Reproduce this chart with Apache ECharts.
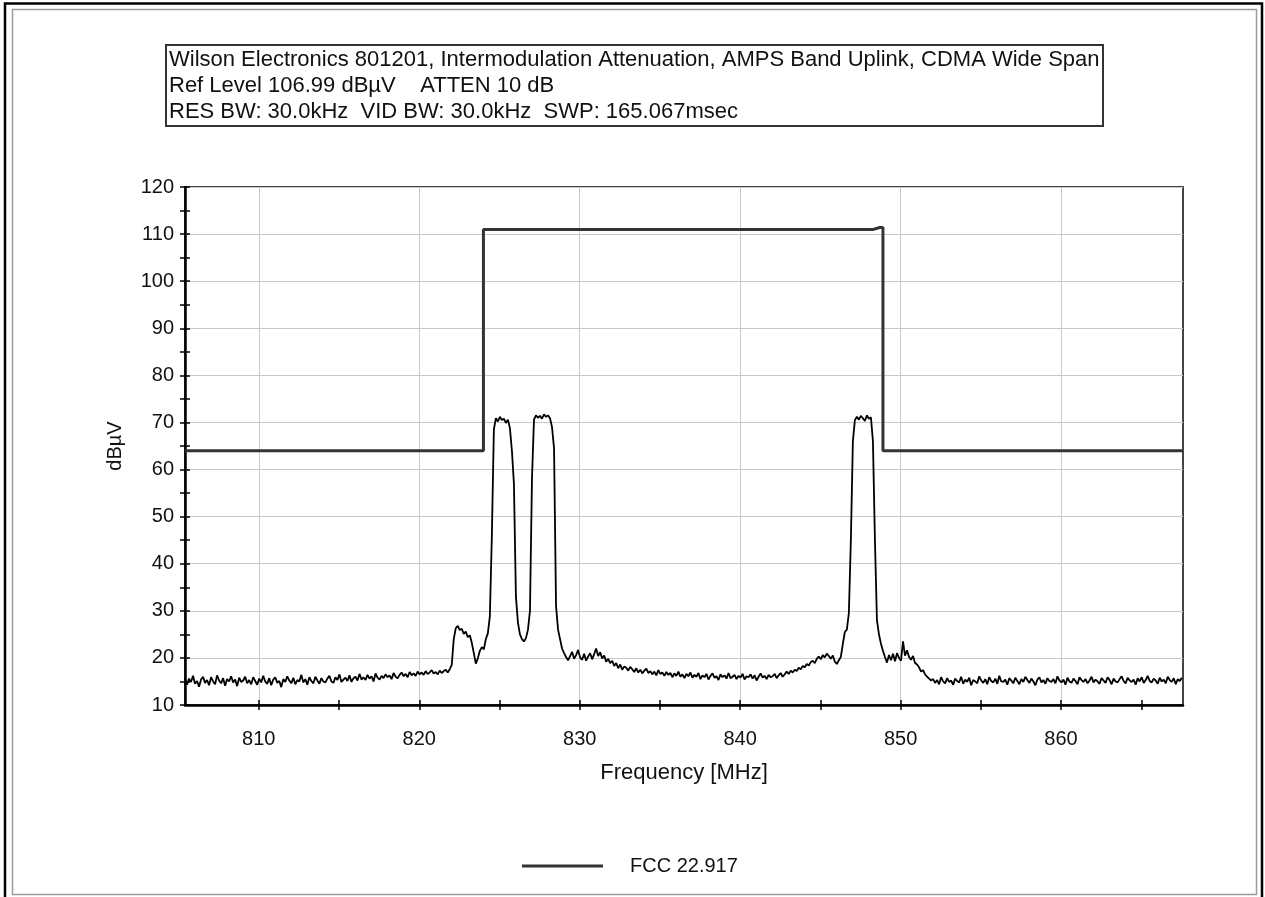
<!DOCTYPE html>
<html>
<head>
<meta charset="utf-8">
<script src="https://cdn.jsdelivr.net/npm/echarts@6/dist/echarts.min.js"></script>
<style>
html,body{margin:0;padding:0;background:#fff;}
#chart{width:1265px;height:897px;}
</style>
</head>
<body>
<div id="chart"></div>
<script>
// ---- data ----
const titleLines = [
  'Wilson Electronics 801201, Intermodulation Attenuation, AMPS Band Uplink, CDMA Wide Span',
  'Ref Level 106.99 dBµV    ATTEN 10 dB',
  'RES BW: 30.0kHz  VID BW: 30.0kHz  SWP: 165.067msec'
];
const xLabelValues = [810, 820, 830, 840, 850, 860];
const xTickValues = [810, 815, 820, 825, 830, 835, 840, 845, 850, 855, 860, 865];
const yTickValues = [10, 15, 20, 25, 30, 35, 40, 45, 50, 55, 60, 65, 70, 75, 80, 85, 90, 95, 100, 105, 110, 115, 120];
const freqMin = 805.4, freqMax = 867.6;

// measured trace: sweep start / step (MHz) and levels (dBµV)
const sweepStart = 805.4;
const sweepStep = 0.125;
const traceLevels = [
  15.8, 14.3, 15.6, 14.9, 16.2, 14.5, 15.1, 13.9, 15.4, 16.0,
  14.7, 15.3, 14.2, 15.9, 15.0, 14.4, 16.3, 15.2, 14.6, 15.7,
  14.1, 15.5, 15.0, 16.1, 14.8, 15.4, 14.0, 15.8, 14.9, 15.2,
  16.0, 14.6, 15.3, 14.4, 15.9, 15.1, 14.3, 15.6, 14.8, 16.2,
  15.0, 14.5, 15.7, 14.2, 15.4, 15.9, 14.7, 15.1, 13.8, 15.5,
  14.9, 16.1, 15.2, 14.6, 15.8, 14.4, 15.3, 15.0, 16.4, 14.8,
  15.5, 14.3, 15.9, 15.1, 14.6, 16.0, 15.2, 14.5, 15.7, 15.0,
  14.8, 15.6, 16.2, 15.0, 14.7, 15.9, 15.3, 16.5, 14.9, 15.4,
  15.8, 15.1, 16.3, 14.9, 15.7, 16.0, 15.2, 16.6, 15.4, 15.9,
  15.3, 16.4, 15.6, 16.1, 15.0, 16.7, 15.8, 15.4, 16.2, 15.7,
  16.5, 15.9, 16.3, 15.5, 16.8, 16.0, 15.7, 16.4, 16.9, 16.1,
  16.6, 15.9, 17.0, 16.3, 16.7, 16.2, 17.1, 16.5, 16.9, 16.4,
  17.2, 16.6, 16.9, 17.4, 16.7, 17.0, 16.5, 17.3, 16.8, 17.2,
  17.5, 16.9, 17.6,
  18.5, 24.0, 26.3, 26.8, 25.9, 26.2, 25.1, 25.6, 24.4, 24.8,
  23.2, 21.0, 18.8, 19.9, 21.5, 22.3, 21.8, 24.0, 25.2, 28.8,
  46.0, 68.5, 70.9, 70.2, 71.2, 70.5, 70.8, 69.9, 70.6, 68.8,
  64.0, 57.0, 33.0, 27.5, 25.0, 24.0, 23.5, 24.2, 26.0, 30.0,
  58.0, 70.6, 71.5, 71.0, 71.4, 70.8, 71.7, 71.2, 71.5, 70.9,
  69.0, 64.5, 31.0, 26.0, 24.0, 22.0, 21.0, 20.2, 19.5, 20.4,
  21.3, 19.8, 20.6, 21.7, 20.1, 19.6, 20.9, 19.4, 20.3, 21.0,
  19.7, 20.8, 22.0, 20.4, 21.2, 19.9, 20.5, 19.2, 19.8, 18.9,
  19.4, 18.3, 18.9, 17.8, 18.6, 17.5, 18.2, 17.9, 17.3, 18.1,
  17.6, 17.0, 17.8, 16.9, 17.5, 16.7, 17.3, 17.7, 16.8, 17.2,
  16.5, 17.1, 16.3, 17.4, 16.6, 16.9, 16.2, 17.0, 16.4, 16.8,
  15.9, 16.7, 16.2, 17.1, 16.0, 16.5, 15.7, 16.6, 16.1, 16.9,
  15.8, 16.4, 16.0, 16.8, 15.5, 16.3, 15.9, 16.6, 15.4, 16.2,
  16.7, 15.8, 16.1, 15.3, 16.5, 15.9, 16.3, 15.6, 16.8, 15.7,
  16.0, 16.4, 15.5, 16.2, 15.8, 16.6, 15.4, 16.1, 15.9, 16.5,
  15.6, 16.3, 15.2, 16.0, 16.7, 15.8, 16.2, 15.5, 16.4, 15.9,
  16.1, 16.6, 15.7, 16.3, 16.8, 16.0, 16.5, 17.1, 16.6, 17.3,
  16.9, 17.5, 17.2, 17.9, 17.6, 18.3, 18.0, 18.7, 18.4, 19.1,
  19.4, 18.9, 19.8, 20.3, 19.7, 20.6, 20.1, 20.9, 20.4, 19.8,
  20.5, 19.2, 18.7, 19.5, 20.2,
  23.0, 25.5, 26.0, 29.5, 45.0, 66.0, 70.5, 71.2, 70.6, 71.4,
  70.9, 70.3, 71.5, 70.8, 71.1, 66.0, 45.0, 28.0, 25.0, 23.0,
  21.5, 20.2, 19.0, 20.6, 19.5, 20.9, 19.3, 21.0, 20.0, 19.4,
  23.5, 20.5, 21.6, 20.2, 19.6, 20.4, 18.9, 18.6, 18.0, 17.1,
  17.4, 16.5, 16.0, 15.6, 15.2,
  15.5, 14.7, 15.3, 14.4, 15.9, 15.0, 14.6, 15.7, 14.9, 15.2,
  14.3, 15.6, 15.1, 14.8, 16.0, 14.5, 15.4, 14.9, 15.8, 14.2,
  15.3, 15.0, 14.6, 16.1, 15.2, 14.7, 15.5, 14.4, 15.9, 15.1,
  14.8, 15.6, 14.5, 16.2, 15.0, 14.9, 15.4, 14.3, 15.7, 15.2,
  14.6, 15.8, 15.1, 14.4, 15.5, 14.9, 16.0, 15.3, 14.7, 15.6,
  15.0, 14.2, 15.4, 15.9, 14.8, 15.3, 14.5, 15.7, 15.1, 14.9,
  15.5, 14.6, 16.1, 15.2, 14.8, 15.4, 14.3, 15.8, 15.0, 14.7,
  15.6, 15.1, 14.4, 15.9, 15.3, 14.9, 15.5, 14.6, 15.2, 16.0,
  14.8, 15.4, 15.0, 14.5, 15.7, 15.2, 14.7, 15.9, 15.3, 14.4,
  15.6, 15.0, 14.8, 15.5, 16.1, 15.1, 14.6, 15.8, 15.2, 14.9,
  15.4, 14.3, 15.7, 15.0, 15.9, 14.7, 15.3, 16.2, 15.1, 14.8,
  15.6, 15.2, 14.5, 15.8, 15.0, 15.4, 14.6, 16.0, 15.3, 14.9,
  15.7, 14.4, 15.5, 15.1, 15.8
];

// FCC 22.917 limit line
const limitName = 'FCC 22.917';
const limitFreqs = [805.4, 824.0, 824.0, 848.3, 848.7, 848.9, 848.9, 867.6];
const limitLevels = [64, 64, 111.0, 111.0, 111.4, 111.4, 64, 64];

// ---- build ----
const traceData = traceLevels.map((v, i) => [sweepStart + sweepStep * i, v]);
const limitData = limitFreqs.map((f, i) => [f, limitLevels[i]]);

const FONT = 'Liberation Sans, Arial, sans-serif';
const chart = echarts.init(document.getElementById('chart'), null, {renderer: 'canvas'});

function tickAxisX(inside) {
  return {
    type: 'value', position: 'bottom', min: freqMin, max: freqMax,
    axisLine: {show: false, onZero: false},
    axisTick: {show: true, inside: inside, length: 5, customValues: xTickValues, lineStyle: {color: '#000', width: 1.5}},
    axisLabel: {show: false}, splitLine: {show: false}
  };
}
function tickAxisY(inside) {
  return {
    type: 'value', position: 'left', min: 10, max: 120,
    axisLine: {show: false, onZero: false},
    axisTick: {show: true, inside: inside, length: 5, customValues: yTickValues, lineStyle: {color: '#000', width: 1.5}},
    axisLabel: {show: false}, splitLine: {show: false}
  };
}

const option = {
  animation: false,
  backgroundColor: '#fff',
  title: {
    text: titleLines.join('\n'),
    left: 166, top: 45,
    padding: [2, 4, 1, 3],
    borderColor: '#333', borderWidth: 2,
    textStyle: {fontFamily: FONT, fontSize: 22, fontWeight: 'normal', color: '#111', lineHeight: 26}
  },
  legend: {
    data: [limitName],
    left: 517, top: 851,
    icon: 'rect', itemWidth: 81, itemHeight: 3,
    textStyle: {fontFamily: FONT, fontSize: 20, color: '#111', padding: [0, 0, 0, 22]}
  },
  grid: {
    left: 185, top: 187, width: 998, height: 518,
    show: true, borderColor: '#444', borderWidth: 2, backgroundColor: '#fff'
  },
  xAxis: [
    {
      type: 'value', position: 'bottom', min: freqMin, max: freqMax,
      name: 'Frequency [MHz]', nameLocation: 'middle', nameGap: 57,
      nameTextStyle: {fontFamily: FONT, fontSize: 22, color: '#111'},
      axisLine: {show: true, onZero: false, lineStyle: {color: '#000', width: 2.5}},
      axisTick: {show: false, customValues: xLabelValues},
      axisLabel: {customValues: xLabelValues, margin: 24, fontFamily: FONT, fontSize: 20, color: '#111'},
      splitLine: {show: true, lineStyle: {color: '#c8c8c8', width: 1}}
    },
    tickAxisX(false),
    tickAxisX(true)
  ],
  yAxis: [
    {
      type: 'value', position: 'left', min: 10, max: 120, interval: 10,
      name: 'dBµV', nameLocation: 'middle', nameGap: 60, nameRotate: 90,
      nameTextStyle: {fontFamily: FONT, fontSize: 20, color: '#111'},
      axisLine: {show: true, onZero: false, lineStyle: {color: '#000', width: 2.5}},
      axisTick: {show: false},
      axisLabel: {margin: 11, fontFamily: FONT, fontSize: 20, color: '#111'},
      splitLine: {show: true, lineStyle: {color: '#c8c8c8', width: 1}}
    },
    tickAxisY(false),
    tickAxisY(true)
  ],
  graphic: [
    {type: 'rect', silent: true, z: -10, shape: {x: 5, y: 3.5, width: 1257, height: 900},
     style: {fill: 'none', stroke: '#000', lineWidth: 2.5}},
    {type: 'rect', silent: true, z: -10, shape: {x: 12.5, y: 9.5, width: 1244, height: 885},
     style: {fill: 'none', stroke: '#9a9a9a', lineWidth: 1.5}}
  ],
  series: [
    {
      name: 'trace', type: 'line', xAxisIndex: 0, yAxisIndex: 0,
      data: traceData, showSymbol: false, symbol: 'none',
      lineStyle: {color: '#000', width: 1.8}, z: 3
    },
    {
      name: limitName, type: 'line', xAxisIndex: 0, yAxisIndex: 0,
      data: limitData, showSymbol: false, symbol: 'none',
      color: '#333',
      lineStyle: {color: '#333', width: 3}, z: 4
    }
  ]
};
chart.setOption(option);
</script>
</body>
</html>
